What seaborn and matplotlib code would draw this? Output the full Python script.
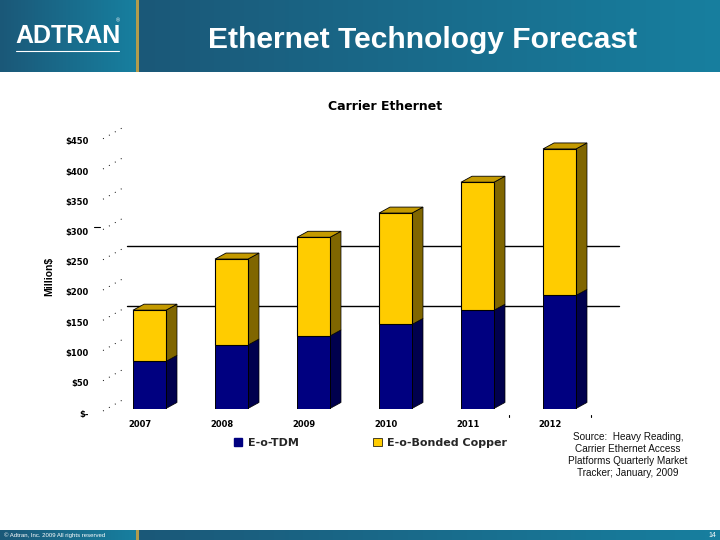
import numpy as np
import matplotlib
matplotlib.use("Agg")
import matplotlib.pyplot as plt
from matplotlib.colors import LinearSegmentedColormap
from matplotlib.patches import Polygon, Patch
from matplotlib.transforms import Affine2D
import pandas as pd
import seaborn as sns

years = ["2007", "2008", "2009", "2010", "2011", "2012"]
tdm = [78, 105, 120, 139, 162.5, 187]
copper = [84.5, 142, 163, 184, 211.5, 242]
tick_values = [0, 50, 100, 150, 200, 250, 300, 350, 400, 450]
tick_labels = ["$-", "$50", "$100", "$150", "$200", "$250", "$300", "$350", "$400", "$450"]
grid_values = [169, 269]
source_lines = ["Source:  Heavy Reading,", "Carrier Ethernet Access",
                "Platforms Quarterly Market", "Tracker; January, 2009"]

W, H = 720, 540
sns.set_theme(style="white")
plt.rcParams["font.family"] = ["Liberation Sans", "DejaVu Sans"]
fig = plt.figure(figsize=(W / 100, H / 100), dpi=100, facecolor="white")

def px_axes(x0, y0, x1, y1, **kw):
    return fig.add_axes([x0 / W, 1 - y1 / H, (x1 - x0) / W, (y1 - y0) / H], **kw)

DARK, TEAL = "#1b5878", "#177f9f"
grad = LinearSegmentedColormap.from_list("band", [DARK, TEAL])
for (x0, x1, y0, y1) in [(0, 136, 0, 72), (138.5, 720, 0, 72), (0, 136, 530, 540), (138.5, 720, 530, 540)]:
    a = px_axes(x0, y0, x1, y1)
    a.imshow(np.linspace(0, 1, 256)[None, :], aspect="auto", cmap=grad)
    a.axis("off")
for (x0, x1, y0, y1) in [(136, 138.5, 0, 72), (136, 138.5, 530, 540)]:
    a = px_axes(x0, y0, x1, y1)
    a.set_facecolor("#b39c4c")
    a.set_xticks([]); a.set_yticks([])
    for s in a.spines.values():
        s.set_visible(False)

def ftext(x, y, s, **kw):
    kw.setdefault("ha", "center")
    kw.setdefault("va", "center")
    return fig.text(x / W, 1 - y / H, s, **kw)

ftext(423, 39.5, "Ethernet Technology Forecast", color="white", fontsize=21.6, fontweight="bold")
ftext(68, 36, "ADTRAN", color="white", fontsize=18, fontweight="bold")
ftext(118, 20.5, "®", color="white", fontsize=4)
fig.add_artist(plt.Line2D([16 / W, 119 / W], [1 - 50.5 / H] * 2, color="white", lw=0.8))
ftext(4, 535.5, "© Adtran, Inc. 2009 All rights reserved", color="white", fontsize=4.3, ha="left")
ftext(712, 535.5, "14", color="white", fontsize=5)

# main chart: value 0 sits at the front floor of the 3D plot
PX_PER_VAL = 30.25 / 50
CAT_PX = 82
X0_PX = 149.5
AX_L, AX_R, AX_T, AX_B = 100, 640, 120, 408.5
ax = px_axes(AX_L, AX_T, AX_R, AX_B)
ax.patch.set_alpha(0)

df = pd.DataFrame({"year": years, "tdm": tdm, "copper": copper})
BW = 33 / CAT_PX
sns.barplot(data=df, x="year", y="tdm", color="#000080", width=BW, saturation=1,
            edgecolor="black", linewidth=0.7, ax=ax, zorder=3)
n_blue = len(ax.patches)
sns.barplot(data=df, x="year", y="copper", bottom=df["tdm"], color="#FFCC00", width=BW,
            saturation=1, edgecolor="black", linewidth=0.8, ax=ax, zorder=3)

ax.set_xlim((AX_L - X0_PX) / CAT_PX, (AX_R - X0_PX) / CAT_PX)
ax.set_ylim(0, (AX_B - AX_T) / PX_PER_VAL)

DX, DY = 11 / CAT_PX, 6 / PX_PER_VAL
for i, p in enumerate(ax.patches):
    x0, x1 = p.get_x(), p.get_x() + p.get_width()
    y0, y1 = p.get_y(), p.get_y() + p.get_height()
    blue = i < n_blue
    ax.add_patch(Polygon([(x1, y0), (x1 + DX, y0 + DY), (x1 + DX, y1 + DY), (x1, y1)],
                         fc="#00004d" if blue else "#806600", ec="black", lw=0.5, zorder=2.5))
    if not blue:
        ax.add_patch(Polygon([(x0, y1), (x0 + DX, y1 + DY), (x1 + DX, y1 + DY), (x1, y1)],
                             fc="#c49a00", ec="black", lw=0.6, zorder=2.5))

# back-wall gridlines
for g in grid_values:
    ax.plot([(127 - X0_PX) / CAT_PX, (619 - X0_PX) / CAT_PX], [g, g], color="black", lw=1.0, zorder=1)

# remnants of the side wall: faint dotted lines
xa, xb = (103 - X0_PX) / CAT_PX, (126 - X0_PX) / CAT_PX
for v in tick_values:
    ax.plot([xa, xb], [v - 2.5 / PX_PER_VAL, v + 10.5 / PX_PER_VAL], color="black", lw=0.7,
            ls=(0, (1, 6)), clip_on=False, zorder=1)
ax.plot([-0.68, -0.6], [300, 300], color="black", lw=0.8, clip_on=False)

# stray category ticks
for c in [4.38, 5.38]:
    ax.plot([c, c], [-14, -10], color="black", lw=0.8, clip_on=False)

for s in ax.spines.values():
    s.set_visible(False)
ax.set_xlabel("")
ax.set_ylabel("")
ax.set_yticks(tick_values, tick_labels)
ax.tick_params(axis="both", length=0, colors="black")
ax.tick_params(axis="y", pad=8)
ax.tick_params(axis="x", pad=8)
for lab in ax.get_yticklabels():
    lab.set(fontfamily="DejaVu Sans", fontweight="bold", fontsize=6)
    lab.set_transform(lab.get_transform() + Affine2D().translate(0, -4.5))
for lab in ax.get_xticklabels():
    lab.set(fontfamily="DejaVu Sans", fontweight="bold", fontsize=6)
    lab.set_transform(lab.get_transform() + Affine2D().translate(-9.5, 0))

ftext(385, 107, "Carrier Ethernet", color="black", fontsize=9, fontweight="bold", fontfamily="DejaVu Sans")
ftext(49, 276, "Million$", color="black", fontsize=7.5, rotation=90, fontweight="bold")
for i, line in enumerate(source_lines):
    ftext(628, 437 + 12 * i, line, color="#111111", fontsize=7.2)

leg = fig.legend(handles=[Patch(fc="#000080", ec="#000080", label="E-o-TDM"),
                          Patch(fc="#FFCC00", ec="black", lw=0.5, label="E-o-Bonded Copper")],
                 loc="center left", bbox_to_anchor=(224 / W, 1 - 443 / H), ncols=2, frameon=False,
                 handlelength=0.75, handleheight=0.7, handletextpad=0.5, columnspacing=6.7,
                 prop={"family": "DejaVu Sans", "weight": "bold", "size": 8})

fig.savefig("out.png", dpi=100)
